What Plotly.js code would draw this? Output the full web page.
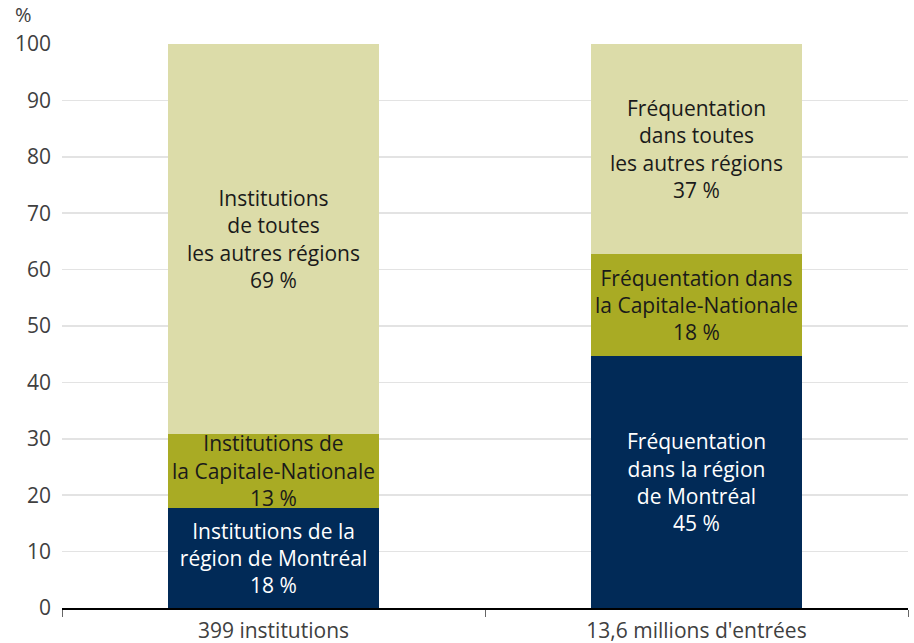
<!DOCTYPE html>
<html>
<head>
<meta charset="utf-8">
<script src="https://cdn.plot.ly/plotly-3.0.1.min.js"></script>
<style>html,body{margin:0;padding:0;background:#fff;}#chart{width:914px;height:643px;}</style>
</head>
<body>
<div id="chart"></div>
<script>
var categories = ["399 institutions", "13,6 millions d'entrées"];
var montreal = [17.8, 44.6];
var capitale = [13.1, 18.2];
var autres = [69.1, 37.2];
var montrealText = ["Institutions de la<br>région de Montréal<br>18 %", "Fréquentation<br>dans la région<br>de Montréal<br>45 %"];
var capitaleText = ["Institutions de<br>la Capitale-Nationale<br>13 %", "Fréquentation dans<br>la Capitale-Nationale<br>18 %"];
var autresText = ["Institutions<br>de toutes<br>les autres régions<br>69 %", "Fréquentation<br>dans toutes<br>les autres régions<br>37 %"];
var yTicks = [0, 10, 20, 30, 40, 50, 60, 70, 80, 90, 100];

var FONT = "'Open Sans', 'Noto Sans', sans-serif";
var FS = 21;
function bar(y, text, color, tcolor) {
  return {
    type: 'bar', x: categories, y: y, text: text,
    textposition: 'inside', insidetextanchor: 'middle', constraintext: 'none',
    textangle: 0,
    textfont: {family: FONT, size: FS, color: tcolor},
    marker: {color: color, line: {width: 0}},
    width: 0.5, hoverinfo: 'skip'
  };
}
var data = [
  bar(montreal, montrealText, '#012a57', '#ffffff'),
  bar(capitale, capitaleText, '#a9ab24', '#1a1a1a'),
  bar(autres, autresText, '#dcdca9', '#1a1a1a')
];
var layout = {
  width: 914, height: 643,
  margin: {l: 62, r: 6, t: 44, b: 35},
  barmode: 'stack', bargap: 0.5,
  showlegend: false,
  paper_bgcolor: '#fff', plot_bgcolor: '#fff',
  font: {family: FONT, size: FS, color: '#404040'},
  xaxis: {
    type: 'category', tickson: 'boundaries', ticks: 'outside', ticklen: 7, tickwidth: 1, tickcolor: '#666',
    showline: true, linecolor: '#000', linewidth: 1.5, showgrid: false, zeroline: false,
    ticklabelstandoff: 3,
    tickfont: {family: FONT, size: FS, color: '#404040'}
  },
  yaxis: {
    range: [0, 100], tickvals: yTicks, ticktext: yTicks.map(String),
    showgrid: true, gridcolor: '#e3e3e3', gridwidth: 1.5, zeroline: false,
    showline: false, ticks: '', ticklabelstandoff: 10,
    tickfont: {family: FONT, size: FS, color: '#404040'}
  },
  annotations: [{
    xref: 'paper', yref: 'paper', x: -0.057, y: 1.053, xanchor: 'left', yanchor: 'middle',
    text: '%', showarrow: false, borderpad: 0, font: {family: FONT, size: 20, color: '#404040'}
  }]
};
Plotly.newPlot('chart', data, layout, {displayModeBar: false, staticPlot: true});
</script>
</body>
</html>
